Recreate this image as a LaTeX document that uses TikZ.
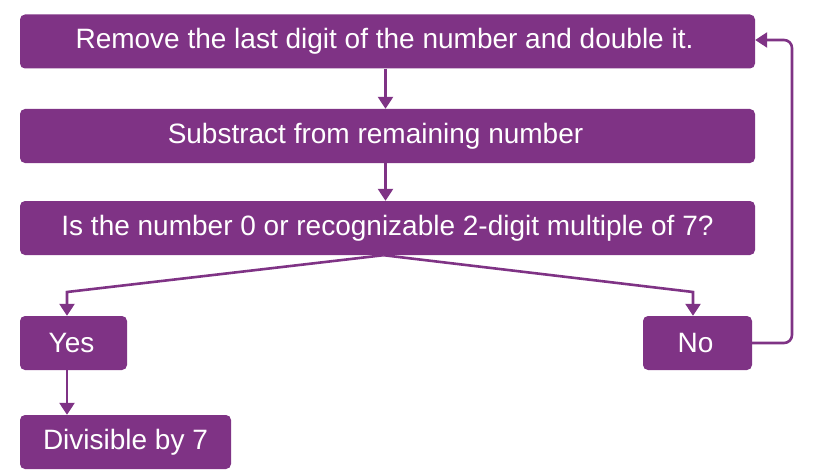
\documentclass[tikz,border=0pt]{standalone}
\usepackage{fontspec}
\setmainfont{Liberation Sans}
\usetikzlibrary{arrows.meta}
\definecolor{purp}{HTML}{7F3385}
\begin{document}
\begin{tikzpicture}[x=1pt,y=-1pt,
  box/.style={fill=purp,draw=none,rounded corners=5pt,text=white,font=\fontsize{28}{30}\selectfont,minimum height=54pt,inner sep=0pt},
  conn/.style={draw=purp,line width=2.6pt,-{Triangle[width=15pt,length=12pt]}}]
\useasboundingbox (0,0) rectangle (827,476);
\node[box,minimum width=735pt] (b1) at (387.5,41.5) {\hspace*{-6pt}Remove the last digit of the number and double it.};
\node[box,minimum width=735pt] (b2) at (387.5,136) {\hspace*{-24pt}Substract from remaining number};
\node[box,minimum width=735pt] (b3) at (387.5,228) {Is the number 0 or recognizable 2-digit multiple of 7?};
\node[box,minimum width=107pt] (yes) at (73.5,343) {\hspace*{-4pt}Yes};
\node[box,minimum width=109pt] (no) at (697.5,343) {\hspace*{-4pt}No};
\node[box,minimum width=211pt] (div) at (125.5,442) {Divisible by 7};
\coordinate (yl) at (67,292);
\coordinate (nl) at (693,292);
\coordinate (lb) at (792,343);
\coordinate (lt) at (792,40);
\draw[conn] ([xshift=-2pt]b1.south) -- ([xshift=-2pt]b2.north);
\draw[conn] ([xshift=-2pt]b2.south) -- ([xshift=-2pt]b3.north);
\draw[conn] ([xshift=-4pt]b3.south) -- (yl) -- (yl |- yes.north);
\draw[conn] ([xshift=-4pt]b3.south) -- (nl) -- (nl |- no.north);
\draw[conn,rounded corners=8pt] (no.east) -- (lb) -- (lt) -- (lt -| b1.east);
\draw[conn] (yl |- yes.south) -- (yl |- div.north);
\end{tikzpicture}
\end{document}
